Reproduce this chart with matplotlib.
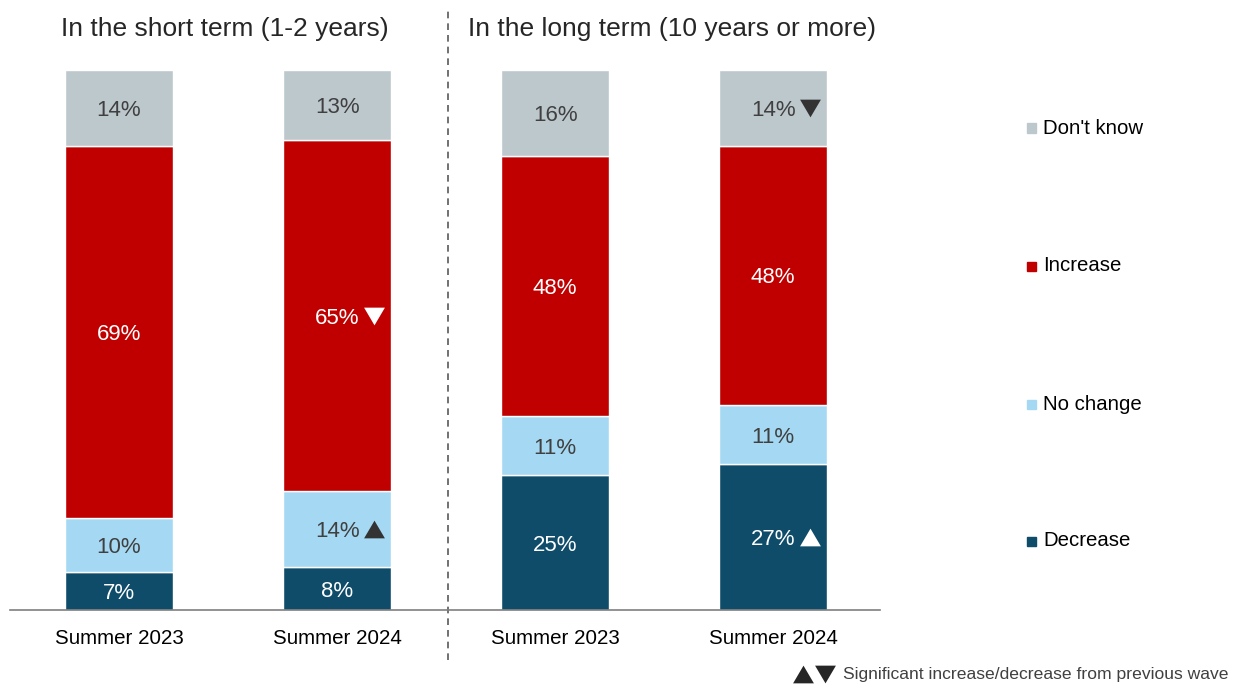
import matplotlib
matplotlib.use("Agg")
import matplotlib.pyplot as plt
from matplotlib.patches import Rectangle
from matplotlib.lines import Line2D
import numpy as np

plt.rcParams['font.family'] = ['Liberation Sans', 'DejaVu Sans']

categories = ["Summer 2023", "Summer 2024", "Summer 2023", "Summer 2024"]
series_names = ["Decrease", "No change", "Increase", "Don't know"]
decrease = [7, 8, 25, 27]
no_change = [10, 14, 11, 11]
increase = [69, 65, 48, 48]
dont_know = [14, 13, 16, 14]
# significance flags: (series index, bar index, direction)
sig_flags = [(1, 1, "up"), (2, 1, "down"), (0, 3, "up"), (3, 3, "down")]
panel_titles = ["In the short term (1-2 years)", "In the long term (10 years or more)"]
footnote = "Significant increase/decrease from previous wave"

colors = ["#0E4C6A", "#A5D9F3", "#C00000", "#BDC8CD"]
label_colors = ["white", "#404040", "white", "#404040"]

W, H = 1243, 684
fig = plt.figure(figsize=(W / 100, H / 100), dpi=100)
ax = fig.add_axes([10 / W, 1 - 610 / H, 870 / W, 540 / H])

up_tri = [(-1, -0.85), (1, -0.85), (0, 0.85), (-1, -0.85)]
down_tri = [(-1, 0.85), (1, 0.85), (0, -0.85), (-1, 0.85)]

series = [decrease, no_change, increase, dont_know]
x = np.arange(len(categories))
bottom = np.zeros(len(categories))
for i, vals in enumerate(series):
    vals = np.array(vals, dtype=float)
    ax.bar(x, vals, width=0.495, bottom=bottom, color=colors[i],
           edgecolor="white", linewidth=1.0, zorder=2)
    for j, v in enumerate(vals):
        ax.text(x[j], bottom[j] + v / 2 - 0.5, f"{int(v)}%", ha="center", va="center",
                fontsize=16, color=label_colors[i], zorder=3)
    bottom += vals

# significance markers
cum = np.cumsum(np.array(series), axis=0)
for s, b, d in sig_flags:
    y0 = cum[s][b] - series[s][b]
    ymid = y0 + series[s][b] / 2
    mcol = label_colors[s] if label_colors[s] == "white" else "#333333"
    ax.plot(x[b] + 0.17, ymid, marker=up_tri if d == "up" else down_tri,
            markersize=15, color=mcol, markeredgewidth=0, linestyle="none",
            zorder=4, clip_on=False)

ax.set_xlim(-0.5, 3.49)
ax.set_ylim(0, 100)
ax.set_xticks(x)
ax.set_xticklabels(categories, fontsize=14.8, color="black")
ax.tick_params(axis="x", length=0, pad=14)
ax.set_yticks([])
for sp in ["top", "right", "left"]:
    ax.spines[sp].set_visible(False)
ax.spines["bottom"].set_color("#7F7F7F")
ax.spines["bottom"].set_linewidth(1.2)

# dashed separator
ax.plot([1.509, 1.509], [-9.3, 111.2], linestyle=(0, (4, 3)), color="#595959",
        linewidth=1.2, clip_on=False)

# panel titles
fig.text(225 / W, 1 - 29 / H, panel_titles[0], ha="center", va="center",
         fontsize=19, color="#262626")
fig.text(672 / W, 1 - 29 / H, panel_titles[1], ha="center", va="center",
         fontsize=19, color="#262626")

# legend (manual, top to bottom)
leg_y = [128, 266, 404, 541]
for name, col, yy in zip(series_names[::-1], colors[::-1], leg_y):
    fig.patches.append(Rectangle((1027 / W, 1 - (yy + 4.5) / H), 9 / W, 9 / H,
                                 transform=fig.transFigure, color=col))
    fig.text(1043 / W, 1 - yy / H, name, ha="left", va="center",
             fontsize=14.7, color="black")

# footnote
fig.add_artist(Line2D([803 / W], [1 - 674 / H], marker=up_tri, markersize=15,
                      color="#262626", markeredgewidth=0, linestyle="none",
                      transform=fig.transFigure))
fig.add_artist(Line2D([825 / W], [1 - 674 / H], marker=down_tri, markersize=15,
                      color="#262626", markeredgewidth=0, linestyle="none",
                      transform=fig.transFigure))
fig.text(843 / W, 1 - 675 / H, footnote, ha="left", va="center",
         fontsize=12.6, color="#404040")

fig.savefig("out.png", dpi=100)
